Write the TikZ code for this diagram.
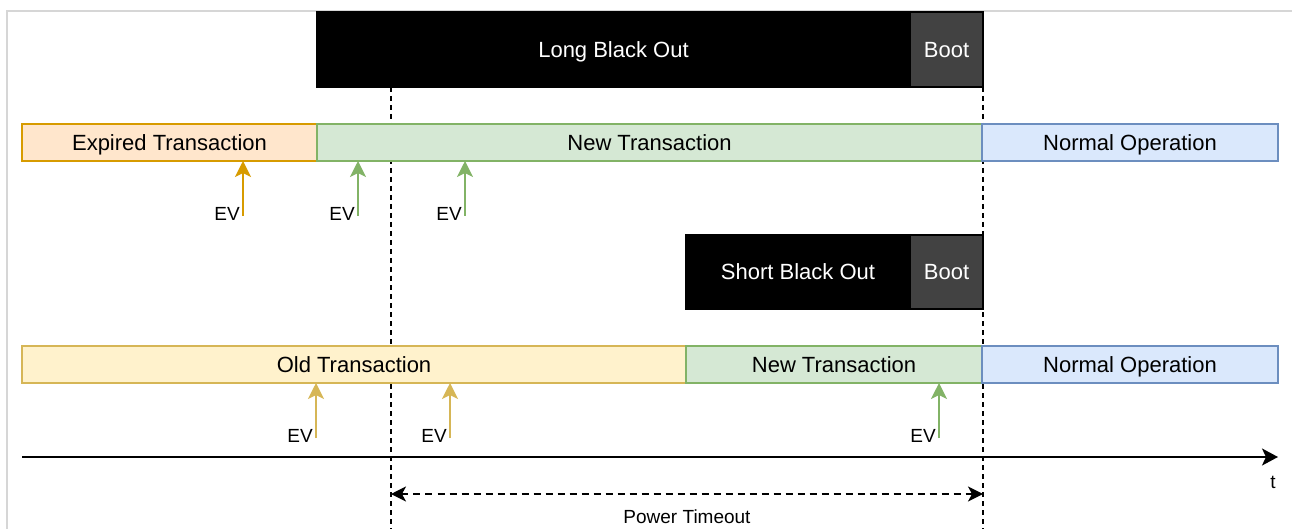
\documentclass[tikz,border=0pt]{standalone}
\usepackage{fontspec}
\setmainfont{Liberation Sans}
\usetikzlibrary{arrows.meta}
\pgfdeclarelayer{bg}
\pgfsetlayers{bg,main}
\definecolor{expFill}{HTML}{FFE6CC}
\definecolor{expLine}{HTML}{D79B00}
\definecolor{newFill}{HTML}{D5E8D4}
\definecolor{newLine}{HTML}{82B366}
\definecolor{normFill}{HTML}{DAE8FC}
\definecolor{normLine}{HTML}{6C8EBF}
\definecolor{oldFill}{HTML}{FFF2CC}
\definecolor{oldLine}{HTML}{D6B656}
\definecolor{bootFill}{HTML}{424242}
\definecolor{frameGray}{HTML}{D6D6D6}
\tikzset{
  bar/.style={draw, line width=1.5pt, minimum height=37pt, inner sep=0pt, outer sep=0pt,
    anchor=north west, font=\fontsize{22}{26}\selectfont, text=black,
    text height=15.5pt, text depth=0pt},
  expbar/.style={bar, fill=expFill, draw=expLine},
  newbar/.style={bar, fill=newFill, draw=newLine},
  normbar/.style={bar, fill=normFill, draw=normLine},
  oldbar/.style={bar, fill=oldFill, draw=oldLine},
  blackout/.style={draw=black, fill=black, line width=1.5pt, inner sep=0pt, outer sep=0pt,
    anchor=north west, font=\fontsize{22}{26}\selectfont, text=white,
    text height=15.5pt, text depth=0pt},
  bootbox/.style={blackout, fill=bootFill},
  evarrow/.style={line width=1.6pt, -{Stealth[length=16pt,width=16pt,inset=4pt]}},
  evlabel/.style={inner sep=0pt, anchor=east, font=\fontsize{19}{22}\selectfont},
  guide/.style={line width=1.8pt, dash pattern=on 5pt off 4pt},
  axisline/.style={line width=2pt, -{Stealth[length=16pt,width=17pt,inset=4pt]}},
  timeout/.style={line width=1.6pt, dash pattern=on 7pt off 5pt,
    {Stealth[length=15pt,width=15pt,inset=4pt]}-{Stealth[length=15pt,width=15pt,inset=4pt]}},
  smalltext/.style={inner sep=0pt, font=\fontsize{19}{22}\selectfont}
}
\begin{document}
\begin{tikzpicture}[x=1pt,y=-1pt]
\useasboundingbox (0,0) rectangle (1292,529);
% frame
\draw[frameGray, line width=1.5pt] (7,529) -- (7,11) -- (1292,11);

% top: long black out
\node[blackout, minimum width=593pt, minimum height=75pt] (lbo) at (317,12) {Long Black Out};
\node[bootbox, minimum width=73pt, minimum height=75pt] (boot1) at (910,12) {Boot};

% row 2
\node[expbar, minimum width=295pt] (exp) at (22,124) {Expired Transaction};
\node[newbar, minimum width=665pt] (new1) at (317,124) {New Transaction};
\node[normbar, minimum width=296pt] (norm1) at (982,124) {Normal Operation};

% short black out
\node[blackout, minimum width=224pt, minimum height=74pt] (sbo) at (686,235) {Short Black Out};
\node[bootbox, minimum width=73pt, minimum height=74pt] (boot2) at (910,235) {Boot};

% row 4
\node[oldbar, minimum width=664pt] (old) at (22,346) {Old Transaction};
\node[newbar, minimum width=296pt] (new2) at (686,346) {New Transaction};
\node[normbar, minimum width=296pt] (norm2) at (982,346) {Normal Operation};

% guides (behind)
\coordinate (g1top) at (391,87);
\coordinate (g1bot) at (391,529);
\coordinate (g2top) at (983,87);
\coordinate (g2bot) at (983,529);
\begin{pgfonlayer}{bg}
\draw[guide] (g1top) -- (g1bot);
\draw[guide] (g2top) -- (g2bot);
\end{pgfonlayer}

% EV arrows row 2
\coordinate (ev1) at (243,216);
\coordinate (ev2) at (358,216);
\coordinate (ev3) at (465,216);
\draw[evarrow, expLine] (ev1) -- (ev1 |- exp.south);
\draw[evarrow, newLine] (ev2) -- (ev2 |- new1.south);
\draw[evarrow, newLine] (ev3) -- (ev3 |- new1.south);
\node[evlabel] (lev1) at (240,214) {EV};
\node[evlabel] (lev2) at (355,214) {EV};
\node[evlabel] (lev3) at (462,214) {EV};

% EV arrows row 4
\coordinate (ev4) at (316,438);
\coordinate (ev5) at (450,438);
\coordinate (ev6) at (939,438);
\draw[evarrow, oldLine] (ev4) -- (ev4 |- old.south);
\draw[evarrow, oldLine] (ev5) -- (ev5 |- old.south);
\draw[evarrow, newLine] (ev6) -- (ev6 |- new2.south);
\node[evlabel] (lev4) at (313,436) {EV};
\node[evlabel] (lev5) at (447,436) {EV};
\node[evlabel] (lev6) at (936,436) {EV};

% time axis
\coordinate (t0) at (22,457);
\coordinate (t1) at (1278,457);
\draw[axisline] (t0) -- (t1);
\node[smalltext] (tlab) at (1273,482) {t};

% power timeout
\coordinate (pt0) at (391,494);
\coordinate (pt1) at (983,494);
\draw[timeout] (pt0) -- (pt1);
\node[smalltext] (ptlab) at (687,517) {Power Timeout};
\end{tikzpicture}
\end{document}
